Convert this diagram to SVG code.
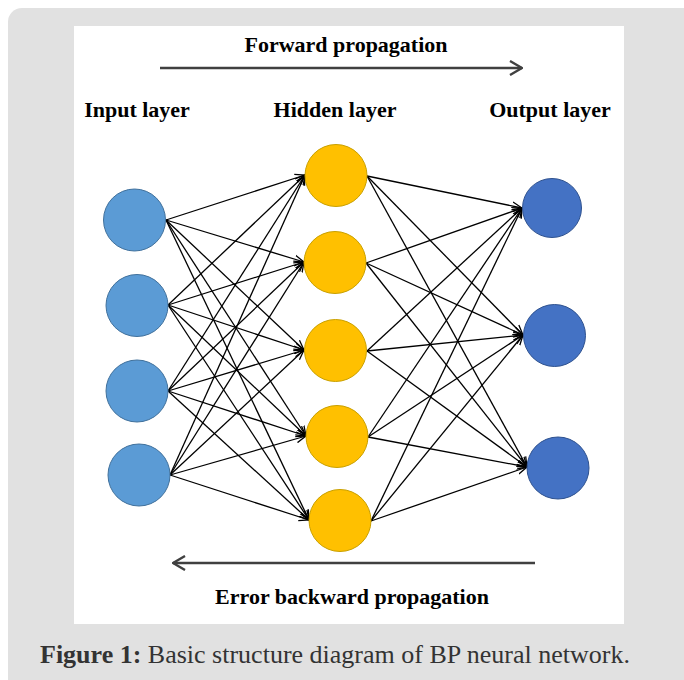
<svg xmlns="http://www.w3.org/2000/svg" width="684" height="680" viewBox="0 0 684 680">
<style>
.lbl{font-family:"Liberation Serif","Times New Roman",serif;font-weight:bold;font-size:22px;fill:#000;text-anchor:middle}
.cap{font-family:"Liberation Serif","Times New Roman",serif;font-size:26px;fill:#333}
.e{stroke:#000;stroke-width:1.3;fill:none;marker-end:url(#ah)}
.big{stroke:#404040;stroke-width:2.6;fill:none}
.in{fill:#5B9BD5;stroke:#41719C;stroke-width:1}
.hid{fill:#FFC000;stroke:#C9A000;stroke-width:1}
.out{fill:#4472C4;stroke:#2F528F;stroke-width:1}
</style>
<defs>
<marker id="ah" viewBox="0 0 10 10" refX="10" refY="5" markerWidth="10" markerHeight="10" markerUnits="userSpaceOnUse" orient="auto">
<path d="M0,1 L10,5 L0,9" fill="none" stroke="#000" stroke-width="1.3"/>
</marker>
<marker id="bh" viewBox="0 0 14 16" refX="13" refY="8" markerWidth="14" markerHeight="16" markerUnits="userSpaceOnUse" orient="auto">
<path d="M1,1 L13,8 L1,15" fill="none" stroke="#404040" stroke-width="2.4"/>
</marker>
</defs>
<rect x="8" y="8" width="700" height="700" rx="14" fill="#E1E1E1"/>
<rect x="74" y="26" width="550" height="598" fill="#FFFFFF"/>
<g id="forward">
<line class="big" x1="160" y1="68" x2="522" y2="68" marker-end="url(#bh)"/>
<text class="lbl" x="346" y="52">Forward propagation</text>
</g>
<g id="backward">
<line class="big" x1="535" y1="563" x2="173" y2="563" marker-end="url(#bh)"/>
<text class="lbl" x="352" y="604">Error backward propagation</text>
</g>
<text class="lbl" x="137" y="117">Input layer</text>
<text class="lbl" x="335" y="117">Hidden layer</text>
<text class="lbl" x="550" y="117">Output layer</text>
<g id="connectors">
<line class="e" x1="166" y1="220" x2="305" y2="175"/>
<line class="e" x1="166" y1="220" x2="304" y2="262"/>
<line class="e" x1="166" y1="220" x2="304" y2="350"/>
<line class="e" x1="166" y1="220" x2="306" y2="436"/>
<line class="e" x1="166" y1="220" x2="309" y2="520"/>
<line class="e" x1="168" y1="305" x2="305" y2="175"/>
<line class="e" x1="168" y1="305" x2="304" y2="262"/>
<line class="e" x1="168" y1="305" x2="304" y2="350"/>
<line class="e" x1="168" y1="305" x2="306" y2="436"/>
<line class="e" x1="168" y1="305" x2="309" y2="520"/>
<line class="e" x1="168" y1="391" x2="305" y2="175"/>
<line class="e" x1="168" y1="391" x2="304" y2="262"/>
<line class="e" x1="168" y1="391" x2="304" y2="350"/>
<line class="e" x1="168" y1="391" x2="306" y2="436"/>
<line class="e" x1="168" y1="391" x2="309" y2="520"/>
<line class="e" x1="170" y1="475" x2="305" y2="175"/>
<line class="e" x1="170" y1="475" x2="304" y2="262"/>
<line class="e" x1="170" y1="475" x2="304" y2="350"/>
<line class="e" x1="170" y1="475" x2="306" y2="436"/>
<line class="e" x1="170" y1="475" x2="309" y2="520"/>
<line class="e" x1="367" y1="176" x2="522" y2="208"/>
<line class="e" x1="367" y1="176" x2="523" y2="335"/>
<line class="e" x1="367" y1="176" x2="527" y2="467"/>
<line class="e" x1="366" y1="263" x2="522" y2="208"/>
<line class="e" x1="366" y1="263" x2="523" y2="335"/>
<line class="e" x1="366" y1="263" x2="527" y2="467"/>
<line class="e" x1="367" y1="351" x2="522" y2="208"/>
<line class="e" x1="367" y1="351" x2="523" y2="335"/>
<line class="e" x1="367" y1="351" x2="527" y2="467"/>
<line class="e" x1="368" y1="437" x2="522" y2="208"/>
<line class="e" x1="368" y1="437" x2="523" y2="335"/>
<line class="e" x1="368" y1="437" x2="527" y2="467"/>
<line class="e" x1="371" y1="521" x2="522" y2="208"/>
<line class="e" x1="371" y1="521" x2="523" y2="335"/>
<line class="e" x1="371" y1="521" x2="527" y2="467"/>
</g>
<g id="in1"><circle class="in" cx="134.5" cy="220" r="31"/></g>
<g id="in2"><circle class="in" cx="137" cy="305.5" r="31"/></g>
<g id="in3"><circle class="in" cx="137" cy="391" r="31"/></g>
<g id="in4"><circle class="in" cx="139" cy="475" r="31"/></g>
<g id="h1"><circle class="hid" cx="336" cy="175.5" r="31"/></g>
<g id="h2"><circle class="hid" cx="335" cy="262.5" r="31"/></g>
<g id="h3"><circle class="hid" cx="335.5" cy="350.5" r="31"/></g>
<g id="h4"><circle class="hid" cx="337" cy="436.5" r="31"/></g>
<g id="h5"><circle class="hid" cx="340" cy="520.5" r="31"/></g>
<g id="o1"><circle class="out" cx="552" cy="208" r="29.5"/></g>
<g id="o2"><circle class="out" cx="554.5" cy="335.5" r="31"/></g>
<g id="o3"><circle class="out" cx="558" cy="468" r="31"/></g>
<text class="cap" x="40" y="663" textLength="590" lengthAdjust="spacingAndGlyphs"><tspan font-weight="bold">Figure 1:</tspan> Basic structure diagram of BP neural network.</text>
</svg>
